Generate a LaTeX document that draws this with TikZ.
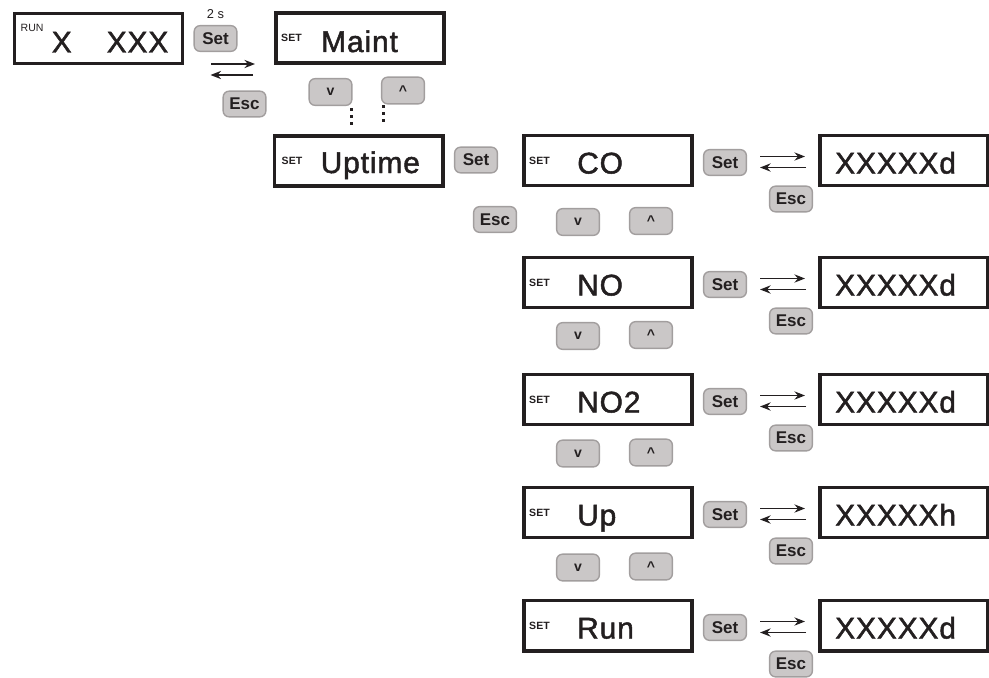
\documentclass[tikz,border=0pt]{standalone}
\usepackage{fontspec}
\setmainfont{Liberation Sans}
\newfontfamily\lcdfont[LetterSpace=3,FakeBold=1.6]{Liberation Sans}
\usetikzlibrary{arrows.meta,calc,positioning}
\definecolor{ink}{HTML}{231F20}
\definecolor{keyfill}{HTML}{CAC7C7}
\definecolor{keyline}{HTML}{A29E9E}

\begin{document}
\begin{tikzpicture}[x=0.03cm,y=-0.03cm,
  lcd/.style={draw=ink,line width=3.4pt,minimum width=5.04cm,minimum height=1.5cm,inner sep=0pt},
  lcdtext/.style={anchor=base west,inner sep=0pt,text=ink,font={\lcdfont\fontsize{25.5}{28}\selectfont}},
  tag/.style={anchor=west,inner sep=0pt,text=ink,font={\bfseries\fontsize{9}{10}\selectfont}},
  key/.style={draw=keyline,fill=keyfill,line width=1.2pt,rounded corners=5pt,
    minimum width=1.28cm,minimum height=0.77cm,inner sep=0pt,text=ink,
    font={\bfseries\fontsize{14.5}{16}\selectfont}},
  arrowkey/.style={key,minimum height=0.8cm,font={\bfseries\fontsize{12}{14}\selectfont}},
  arr/.style={-{Stealth[length=9pt,width=7pt]},line width=1.4pt,draw=ink},
  dots/.style={draw=ink,line width=2.6pt,dash pattern=on 2.6pt off 3.4pt}]
  \useasboundingbox (0,0) rectangle (989,677);

  \node[lcd] (run) at (98.5,38.5) {};
  \node[tag,font={\fontsize{9}{10}\selectfont}] at ($(run.west)+(8,-11)$) {RUN};
  \node[lcdtext] at ($(run.west)+(39,14)$) {X};
  \node[lcdtext] at ($(run.west)+(94,14)$) {XXX};
  \node[key] (set0) at (215.5,38.5) {Set};
  \node[above=5pt of set0,inner sep=0pt,text=ink,font={\fontsize{11}{12}\selectfont}] (hold) {2 s};
  \node[key] (esc0) at (244.5,104) {Esc};

  \node[lcd] (maint) at (360,38) {};
  \node[tag] at ($(maint.west)+(7,0)$) {SET};
  \node[lcdtext] at ($(maint.west)+(47,14)$) {Maint};
  \node[arrowkey] (down0) at (330.5,92) {v};
  \node[arrowkey] (up0) at (403,90.5) {\raisebox{-.3em}{\textasciicircum}};

  \node[lcd] (uptime) at (358.5,161) {};
  \node[tag] at ($(uptime.west)+(9,0)$) {SET};
  \node[lcdtext] at ($(uptime.west)+(48,12)$) {Uptime};
  \node[key] (setU) at (476,160) {Set};
  \node[key] (escU) at (495,219.5) {Esc};

  \draw[arr,shorten <=.81cm,shorten >=.57cm] ([yshift=-.765cm]run.east) -- ([yshift=-.765cm]run.east -| maint.west);
  \draw[arr,shorten <=.63cm,shorten >=.78cm] ([yshift=-1.095cm]run.east -| maint.west) -- ([yshift=-1.095cm]run.east);
  \draw[dots] ([xshift=-.03cm,yshift=-.07cm]down0.south east) -- ([xshift=-.03cm,yshift=.27cm]down0.south east |- uptime.north);
  \draw[dots] ([xshift=.09cm,yshift=-.02cm]up0.south west) -- ([xshift=.09cm,yshift=.27cm]up0.south west |- uptime.north);

  \foreach \i/\yc/\name/\unit in {1/160.5/CO/d,2/282.5/NO/d,3/399.5/NO2/d,4/512.5/Up/h,5/625.5/Run/d}{
    \node[lcd] (par\i) at (608,\yc) {};
    \node[tag] at ($(par\i.west)+(7,0)$) {SET};
    \node[lcdtext] at ($(par\i.west)+(55,13)$) {\name};
    \node[key] (set\i) at (725,\yc+2) {Set};
    \node[key] (esc\i) at (791,\yc+38.5) {Esc};
    \node[lcd] (val\i) at (904,\yc) {};
    \node[lcdtext] at ($(val\i.west)+(17,13)$) {XXXXX\unit};
    \draw[arr,shorten <=.39cm,shorten >=.39cm] ([yshift=.18cm]set\i.east) -- ([yshift=.18cm]set\i.east -| val\i.west);
    \draw[arr,shorten <=.36cm,shorten >=.39cm] ([yshift=-.15cm]set\i.east -| val\i.west) -- ([yshift=-.15cm]set\i.east);
  }
  \foreach \i/\yv in {1/222,2/336,3/453.5,4/567.5}{
    \node[arrowkey] (down\i) at (578,\yv) {v};
    \node[arrowkey] (up\i) at (651,\yv-1) {\raisebox{-.3em}{\textasciicircum}};
  }
\end{tikzpicture}
\end{document}
